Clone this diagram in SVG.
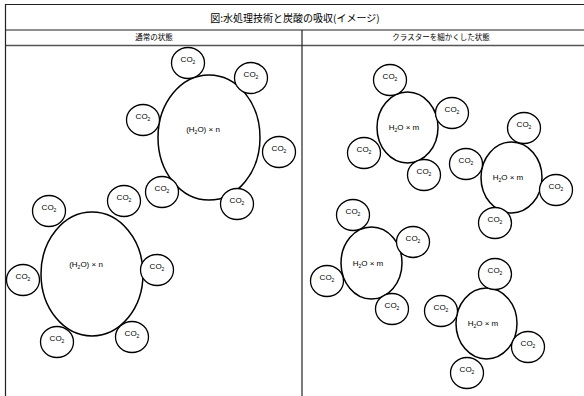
<svg xmlns="http://www.w3.org/2000/svg" width="584" height="396" viewBox="0 0 584 396">
<style>
.frame{stroke:#222;stroke-width:1.2;fill:none}
.big{fill:#fff;stroke:#000;stroke-width:1.5}
.co{fill:#fff;stroke:#000;stroke-width:1.3}
text{font-family:"Noto Sans CJK JP","Liberation Sans",sans-serif;fill:#000}
.t{font-family:"Liberation Sans","Noto Sans CJK JP",sans-serif;font-size:8px;text-anchor:middle}
.s{font-size:5px}
</style>
<rect x="0" y="0" width="584" height="396" fill="#fff"/>
<g id="frame">
<line class="frame" x1="5" y1="4.5" x2="584" y2="4.5"/>
<line class="frame" x1="5" y1="30" x2="584" y2="30"/>
<line x1="5" y1="45.5" x2="584" y2="45.5" stroke="#555" stroke-width="1.6"/>
<line class="frame" x1="5.5" y1="4" x2="5.5" y2="396"/>
<line class="frame" x1="302" y1="30" x2="302" y2="396"/>
<text x="295" y="21.5" font-size="10" text-anchor="middle">図:水処理技術と炭酸の吸収(イメージ)</text>
<text x="154" y="40" font-size="7.5" text-anchor="middle">通常の状態</text>
<text x="441" y="40" font-size="7.5" text-anchor="middle">クラスターを細かくした状態</text>
</g>
<g id="connectors"></g>
<defs>
<g id="co2">
<ellipse class="co" cx="0" cy="0" rx="16.5" ry="15.5"/>
<text class="t" x="0" y="-1">CO<tspan class="s" dy="1.5">2</tspan></text>
</g>
</defs>
<g id="cluster-n1">
<ellipse class="big" cx="209" cy="137.5" rx="51" ry="62.5"/>
<text class="t" x="203" y="132">(H<tspan class="s" dy="1.5">2</tspan><tspan dy="-1.5">O) × n</tspan></text>
<use href="#co2" x="188" y="63"/>
<use href="#co2" x="251" y="78"/>
<use href="#co2" x="143" y="120"/>
<use href="#co2" x="279" y="152"/>
<use href="#co2" x="162" y="192"/>
<use href="#co2" x="237" y="204"/>
</g>
<g id="cluster-n2">
<ellipse class="big" cx="92" cy="274" rx="51" ry="62"/>
<text class="t" x="86" y="267">(H<tspan class="s" dy="1.5">2</tspan><tspan dy="-1.5">O) × n</tspan></text>
<use href="#co2" x="49" y="211"/>
<use href="#co2" x="124" y="201"/>
<use href="#co2" x="23" y="280"/>
<use href="#co2" x="157" y="270"/>
<use href="#co2" x="57" y="342"/>
<use href="#co2" x="132" y="337"/>
</g>
<g id="cluster-m1">
<ellipse class="big" cx="407.5" cy="127.5" rx="30.5" ry="35.5"/>
<text class="t" x="404" y="130">H<tspan class="s" dy="1.5">2</tspan><tspan dy="-1.5">O × m</tspan></text>
<use href="#co2" x="390" y="80"/>
<use href="#co2" x="452" y="113"/>
<use href="#co2" x="364" y="153"/>
<use href="#co2" x="424" y="175"/>
</g>
<g id="cluster-m2">
<ellipse class="big" cx="511.5" cy="177.5" rx="30.5" ry="35.5"/>
<text class="t" x="508" y="180">H<tspan class="s" dy="1.5">2</tspan><tspan dy="-1.5">O × m</tspan></text>
<use href="#co2" x="524" y="128"/>
<use href="#co2" x="466" y="164"/>
<use href="#co2" x="556" y="190"/>
<use href="#co2" x="495" y="223"/>
</g>
<g id="cluster-m3">
<ellipse class="big" cx="371.5" cy="263" rx="30.5" ry="36"/>
<text class="t" x="368" y="266">H<tspan class="s" dy="1.5">2</tspan><tspan dy="-1.5">O × m</tspan></text>
<use href="#co2" x="353" y="215"/>
<use href="#co2" x="413" y="242"/>
<use href="#co2" x="327" y="281"/>
<use href="#co2" x="392" y="309"/>
</g>
<g id="cluster-m4">
<ellipse class="big" cx="486.5" cy="323.5" rx="30.5" ry="35.5"/>
<text class="t" x="483" y="326">H<tspan class="s" dy="1.5">2</tspan><tspan dy="-1.5">O × m</tspan></text>
<use href="#co2" x="495" y="274"/>
<use href="#co2" x="441" y="311"/>
<use href="#co2" x="528" y="347"/>
<use href="#co2" x="467" y="373"/>
</g>
</svg>
